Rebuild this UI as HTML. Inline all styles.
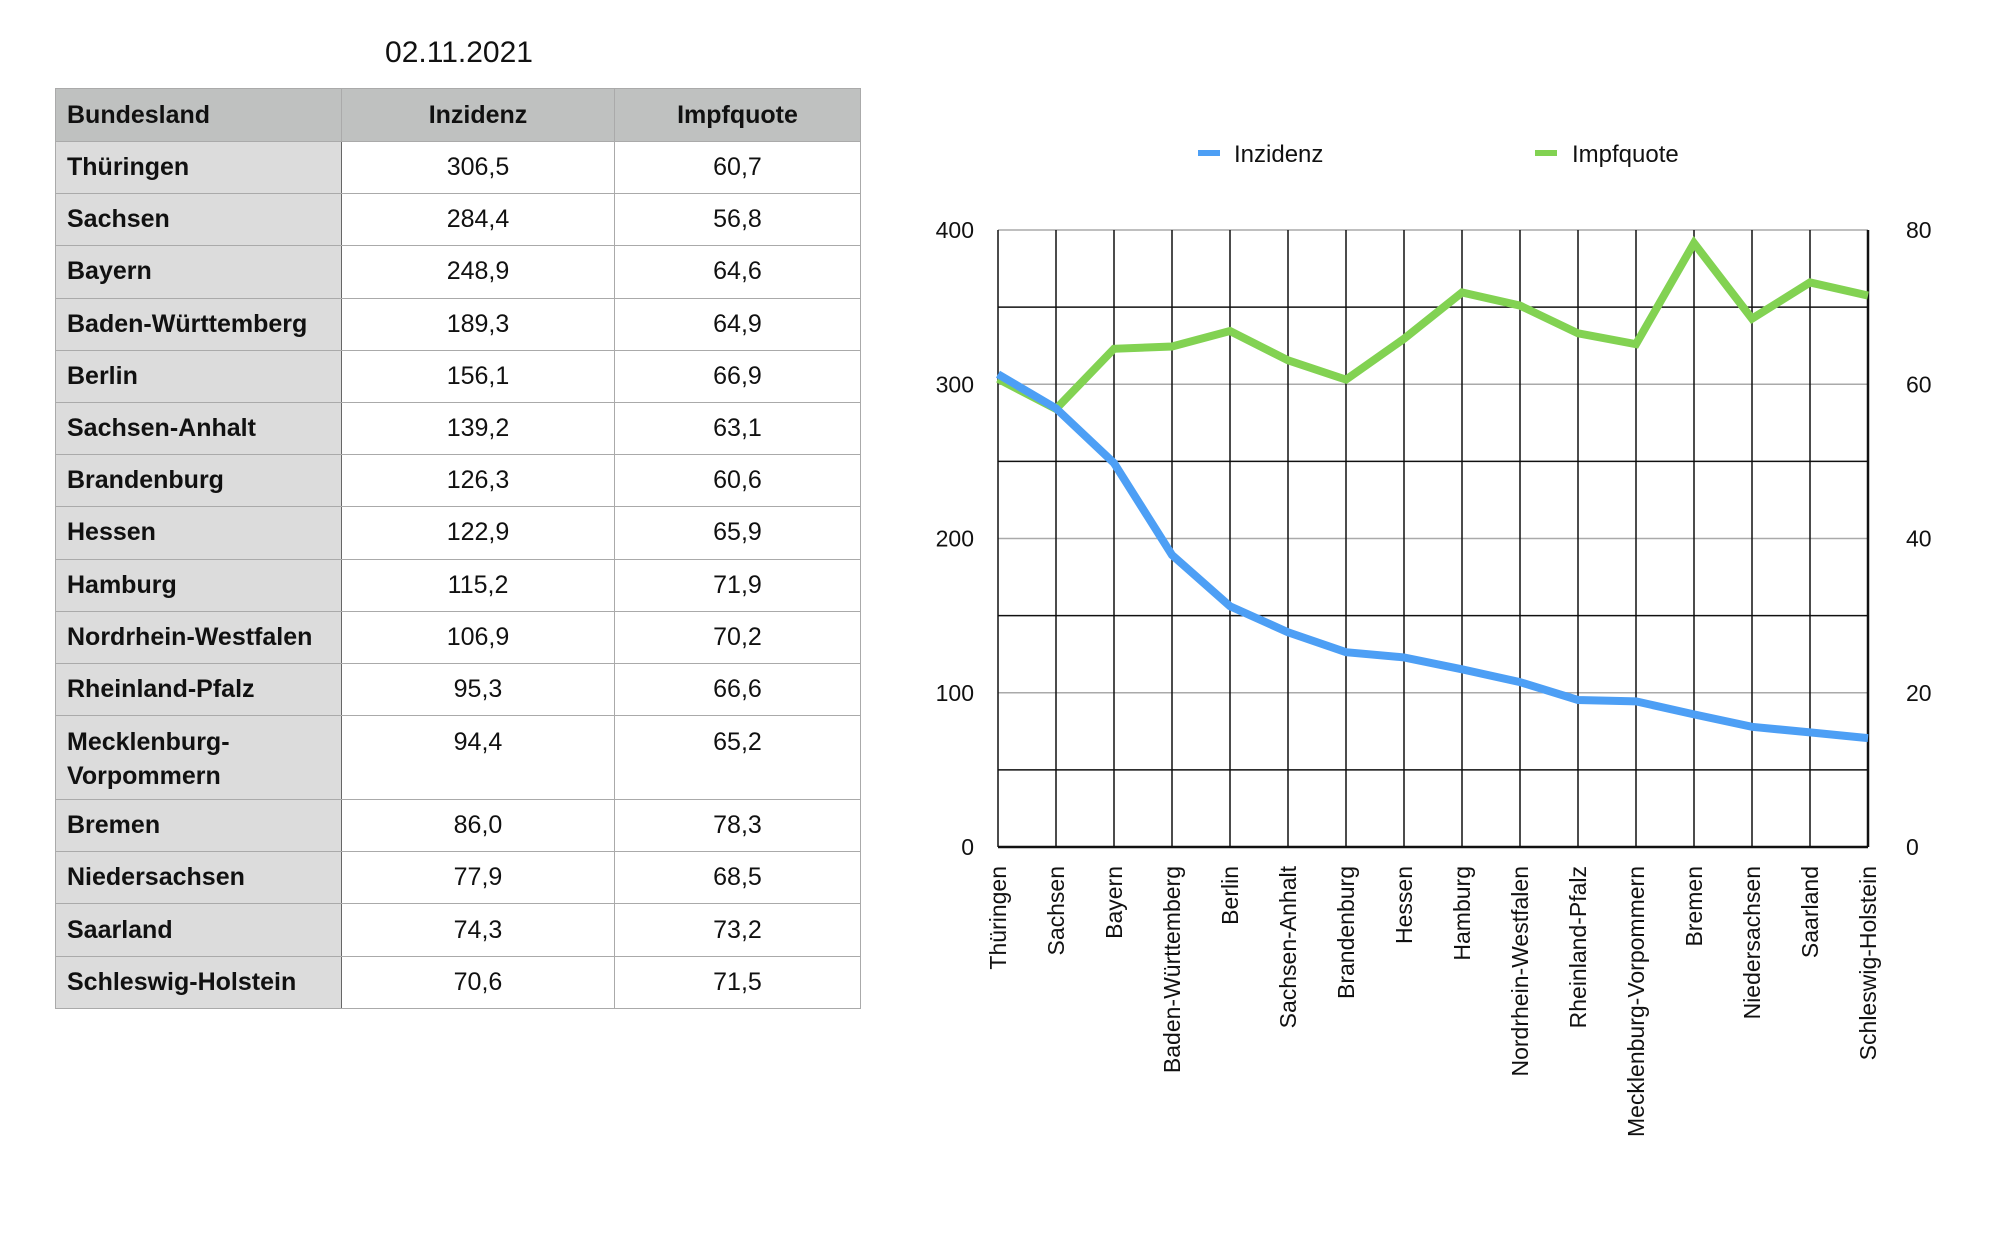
<!DOCTYPE html>
<html><head><meta charset="utf-8">
<style>
html,body{margin:0;padding:0;background:#fff;}
body{width:1992px;height:1256px;position:relative;overflow:hidden;font-family:"Liberation Sans Narrow","Liberation Sans",sans-serif;}
#title{position:absolute;left:300px;width:318px;top:36px;text-align:center;font-size:30px;color:#111;}
table{position:absolute;left:55px;top:88px;border-collapse:collapse;width:805px;table-layout:fixed;font-size:25px;color:#111;}
td,th{border:1.5px solid #aaa;padding:0 11px;height:52.2px;box-sizing:border-box;}
th{background:#bfc1c0;font-weight:bold;height:53px;}
th.c0{text-align:left;}
td.c0{background:#dcdcdc;font-weight:bold;border-right:1.5px solid #666;}
td.n{text-align:center;}
tr.tall td{height:84px;vertical-align:top;padding-top:9px;line-height:34px;}
svg{position:absolute;left:0;top:0;}
svg text{font-family:"Liberation Sans",sans-serif;fill:#111;}
</style></head><body>
<div id="title">02.11.2021</div>
<table>
<colgroup><col style="width:286px"><col style="width:273px"><col style="width:246px"></colgroup>
<thead><tr><th class="c0">Bundesland</th><th>Inzidenz</th><th>Impfquote</th></tr></thead>
<tbody id="tb"></tbody>
</table>
<svg id="chart" width="1992" height="1256"></svg>
<script>
const categories=["Thüringen","Sachsen","Bayern","Baden-Württemberg","Berlin","Sachsen-Anhalt","Brandenburg","Hessen","Hamburg","Nordrhein-Westfalen","Rheinland-Pfalz","Mecklenburg-Vorpommern","Bremen","Niedersachsen","Saarland","Schleswig-Holstein"];
const inzidenz=[306.5,284.4,248.9,189.3,156.1,139.2,126.3,122.9,115.2,106.9,95.3,94.4,86.0,77.9,74.3,70.6];
const impfquote=[60.7,56.8,64.6,64.9,66.9,63.1,60.6,65.9,71.9,70.2,66.6,65.2,78.3,68.5,73.2,71.5];
const leftTicks=[0,100,200,300,400];
const rightTicks=[0,20,40,60,80];

const fmt=v=>v.toFixed(1).replace('.',',');
const tb=document.getElementById('tb');
categories.forEach((c,i)=>{
  const tr=document.createElement('tr');
  
  
  if(c==="Mecklenburg-Vorpommern") tr.className='tall';
  const label=c==="Mecklenburg-Vorpommern"?"Mecklenburg-<br>Vorpommern":c;
  tr.innerHTML='<td class="c0">'+label+'</td><td class="n">'+fmt(inzidenz[i])+'</td><td class="n">'+fmt(impfquote[i])+'</td>';
  tb.appendChild(tr);
});

const NS='http://www.w3.org/2000/svg';
const svg=document.getElementById('chart');
const L=998,R=1868,T=230,B=847;
const x=i=>L+i*(R-L)/(categories.length-1);
const yL=v=>B-v/400*(B-T);
const yR=v=>B-v/80*(B-T);
function el(tag,attrs){const e=document.createElementNS(NS,tag);for(const k in attrs)e.setAttribute(k,attrs[k]);svg.appendChild(e);return e;}

for(let v=50;v<=400;v+=50){
  const g=el('line',{x1:L,x2:R,y1:yL(v),y2:yL(v),stroke:v%100===0?'#aaa':'#111','stroke-width':1.5});
  
  
}
categories.forEach((c,i)=>{
  const g=el('line',{x1:x(i),x2:x(i),y1:T,y2:B,stroke:'#111','stroke-width':1.5});
  
  
  const t=el('text',{x:0,y:0,'font-size':23,'text-anchor':'end',transform:`translate(${x(i)+8},${B+19}) rotate(-90)`});
  t.textContent=c;
  
  
});
const ax=el('line',{x1:L,x2:R,y1:B,y2:B,stroke:'#111','stroke-width':2.5});


const ar=el('line',{x1:R,x2:R,y1:T,y2:B,stroke:'#111','stroke-width':2.5});



leftTicks.forEach(v=>{
  const t=el('text',{x:974,y:yL(v)+8,'font-size':23,'text-anchor':'end'});
  t.textContent=v;
  
  
});
rightTicks.forEach(v=>{
  const t=el('text',{x:1906,y:yR(v)+8,'font-size':23,'text-anchor':'start'});
  t.textContent=v;
  
  
});

const pg=el('polyline',{points:impfquote.map((v,i)=>x(i)+','+yR(v)).join(' '),fill:'none',stroke:'#82d252','stroke-width':8,'stroke-linejoin':'miter'});


const pb=el('polyline',{points:inzidenz.map((v,i)=>x(i)+','+yL(v)).join(' '),fill:'none',stroke:'#4d9ff5','stroke-width':8,'stroke-linejoin':'miter'});



const l1=el('line',{x1:1198,x2:1220,y1:153,y2:153,stroke:'#4d9ff5','stroke-width':6});


const t1=el('text',{x:1234,y:162,'font-size':24});
t1.textContent='Inzidenz';


const l2=el('line',{x1:1535,x2:1557,y1:153,y2:153,stroke:'#82d252','stroke-width':6});


const t2=el('text',{x:1572,y:162,'font-size':24});
t2.textContent='Impfquote';


</script>
</body></html>
